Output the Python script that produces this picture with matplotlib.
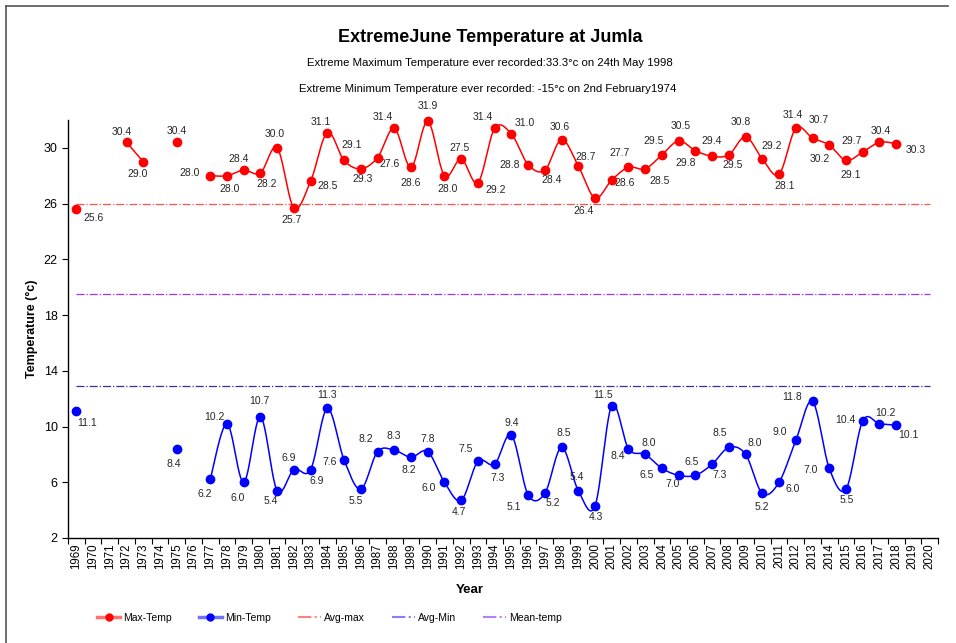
import numpy as np
import matplotlib.pyplot as plt
from matplotlib.lines import Line2D

plt.rcParams['font.family'] = ['Liberation Sans', 'DejaVu Sans']

# === Data ===
years = np.arange(1969, 2021)
nan = np.nan

max_temp = [25.6, nan, nan, 30.4, 29.0, nan, 30.4, nan, 28.0, 28.0,
            28.4, 28.2, 30.0, 25.7, 27.6, 31.1, 29.1, 28.5, 29.3, 31.4,
            28.6, 31.9, 28.0, 29.2, 27.5, 31.4, 31.0, 28.8, 28.4, 30.6,
            28.7, 26.4, 27.7, 28.6, 28.5, 29.5, 30.5, 29.8, 29.4, 29.5,
            30.8, 29.2, 28.1, 31.4, 30.7, 30.2, 29.1, 29.7, 30.4, 30.3,
            nan, nan]

min_temp = [11.1, nan, nan, nan, nan, nan, 8.4, nan, 6.2, 10.2,
            6.0, 10.7, 5.4, 6.9, 6.9, 11.3, 7.6, 5.5, 8.2, 8.3,
            7.8, 8.2, 6.0, 4.7, 7.5, 7.3, 9.4, 5.1, 5.2, 8.5,
            5.4, 4.3, 11.5, 8.4, 8.0, 7.0, 6.5, 6.5, 7.3, 8.5,
            8.0, 5.2, 6.0, 9.0, 11.8, 7.0, 5.5, 10.4, 10.2, 10.1,
            nan, nan]

# data labels as printed on the chart (one per existing point)
max_labels = ["25.6", "30.4", "29.0", "30.4", "28.0", "28.0", "28.4", "28.2",
              "30.0", "25.7", "28.5", "31.1", "29.1", "29.3", "27.6", "31.4",
              "28.6", "31.9", "28.0", "27.5", "29.2", "31.4", "31.0", "28.8",
              "28.4", "30.6", "28.7", "26.4", "28.6", "27.7", "28.5", "29.5",
              "30.5", "29.8", "29.4", "29.5", "30.8", "29.2", "28.1", "31.4",
              "30.7", "30.2", "29.1", "29.7", "30.4", "30.3"]
min_labels = ["11.1", "8.4", "6.2", "10.2", "6.0", "10.7", "5.4", "6.9",
              "6.9", "11.3", "7.6", "5.5", "8.2", "8.3", "8.2", "7.8",
              "6.0", "4.7", "7.5", "7.3", "9.4", "5.1", "5.2", "8.5",
              "5.4", "4.3", "11.5", "8.4", "8.0", "6.5", "7.0", "6.5",
              "7.3", "8.5", "8.0", "5.2", "6.0", "9.0", "11.8", "7.0",
              "5.5", "10.4", "10.2", "10.1"]

avg_max = 26.0
avg_min = 12.9
mean_temp = 19.5

# label offsets in pixels (right, down)
max_off = [(17, 9), (-5, -10), (-6, 12), (0, -11), (-21, -3), (3, 13), (-5, -11),
           (6, 11), (-2, -14), (-2, 12), (17, 5), (-6, -11), (8, -15), (2, 10),
           (12, 6), (-11, -11), (0, 16), (0, -15), (3, 13), (-2, -11), (18, 7),
           (-12, -11), (13, -11), (-18, 0), (7, 10), (-2, -13), (7, -9),
           (-11, 13), (13, 3), (-9, -14), (14, 12), (-8, -14), (2, -15),
           (-10, 12), (-1, -15), (4, 10), (-5, -15), (9, -13), (6, 12),
           (-3, -13), (6, -18), (-9, 14), (5, 15), (-11, -11), (1, -11), (20, 6)]
min_off = [(11, 12), (-3, 15), (-5, 15), (-13, -7), (-6, 16), (-1, -16), (-6, 10),
           (-5, -12), (6, 11), (0, -13), (-14, 2), (-5, 12), (-12, -13), (0, -14),
           (-2, 13), (0, -13), (-16, 6), (-2, 12), (-12, -12), (3, 14), (0, -12),
           (-14, 12), (8, 10), (2, -14), (-2, -14), (1, 11), (-9, -11), (-11, 7),
           (4, -11), (-15, 7), (-6, 9), (-4, -13), (7, 11), (-9, -14), (9, -11),
           (0, 14), (14, 7), (-16, -8), (-20, -4), (-19, 2), (1, 11), (-17, -1),
           (6, -11), (12, 10)]


def smooth_runs(x, y, n=24):
    # Excel-like smoothed line: bezier through each run of points
    x = np.asarray(x, float)
    y = np.asarray(y, float)
    ok = ~np.isnan(y)
    runs, cur = [], []
    for i in range(len(x)):
        if ok[i]:
            cur.append(i)
        elif cur:
            runs.append(cur)
            cur = []
    if cur:
        runs.append(cur)
    out = []
    for r in runs:
        if len(r) < 2:
            continue
        p = np.column_stack([x[r], y[r]])
        k = len(p)
        seg = []
        for i in range(k - 1):
            prev = p[i - 1] if i > 0 else p[i]
            nxt = p[i + 2] if i + 2 < k else p[i + 1]
            c1 = p[i] + (p[i + 1] - prev) / 6
            c2 = p[i + 1] - (nxt - p[i]) / 6
            t = np.linspace(0, 1, n)[:, None]
            b = ((1 - t) ** 3 * p[i] + 3 * (1 - t) ** 2 * t * c1
                 + 3 * (1 - t) * t ** 2 * c2 + t ** 3 * p[i + 1])
            seg.append(b)
        out.append(np.vstack(seg))
    return out


fig = plt.figure(figsize=(9.56, 6.43), dpi=100)
ax = fig.add_axes([68 / 956, 1 - 538 / 643, 870 / 956, 418 / 643])

for series, col in [(max_temp, 'red'), (min_temp, 'blue')]:
    for c in smooth_runs(years, series):
        ax.plot(c[:, 0], c[:, 1], color=col, lw=1.1, zorder=3, clip_on=False)
    ax.plot(years, series, 'o', color=col, ms=6, zorder=4, clip_on=False)

ax.plot([years[0], years[-1]], [avg_max, avg_max], color='#ff5050', ls='-.', lw=0.9)
ax.plot([years[0], years[-1]], [avg_min, avg_min], color='#333399', ls='-.', lw=0.9)
ax.plot([years[0], years[-1]], [mean_temp, mean_temp], color='#9933ff', ls='-.', lw=0.9)

# data labels
for series, labels, offs in [(max_temp, max_labels, max_off), (min_temp, min_labels, min_off)]:
    pts = [(yr, v) for yr, v in zip(years, series) if not np.isnan(v)]
    for (yr, v), txt, (dx, dy) in zip(pts, labels, offs):
        ax.annotate(txt, (yr, v), xytext=(dx, -dy), textcoords='offset pixels',
                    ha='center', va='center', fontsize=7.5, color='#262626')

ax.set_xlim(1968.5, 2020.5)
ax.set_ylim(2, 32)
ax.set_yticks(np.arange(2, 31, 4))
ax.set_xticks(years)
ax.set_xticklabels([str(y) for y in years], rotation=90, fontsize=8.3)
ax.set_xticks(np.arange(1968.5, 2021, 1), minor=True)
ax.tick_params(axis='x', which='major', length=0, pad=4)
ax.tick_params(axis='x', which='minor', length=4, width=0.8, direction='out')
ax.tick_params(axis='y', labelsize=9, length=4, width=0.8)
for s in ['top', 'right']:
    ax.spines[s].set_visible(False)
for s in ['left', 'bottom']:
    ax.spines[s].set_linewidth(1.0)

ax.set_ylabel("Temperature (°c)", fontsize=9, fontweight='bold', labelpad=4)
fig.text(470 / 956, 1 - 590 / 643, "Year", ha='center', va='center',
         fontsize=9.5, fontweight='bold')

fig.text(490 / 956, 1 - 37 / 643, "ExtremeJune Temperature at Jumla",
         ha='center', va='center', fontsize=13, fontweight='bold')
fig.text(490 / 956, 1 - 63 / 643,
         "Extreme Maximum Temperature ever recorded:33.3°c on 24th May 1998",
         ha='center', va='center', fontsize=8.2)
fig.text(488 / 956, 1 - 89 / 643,
         "Extreme Minimum Temperature ever recorded: -15°c on 2nd February1974",
         ha='center', va='center', fontsize=8.2)

handles = [
    Line2D([], [], color='#ff7070', lw=2.5, marker='o', mfc='red', mec='red', ms=5),
    Line2D([], [], color='#7070ff', lw=2.5, marker='o', mfc='blue', mec='blue', ms=5),
    Line2D([], [], color='#ff8080', lw=1.5, ls='-.'),
    Line2D([], [], color='#7f7fff', lw=1.5, ls='-.'),
    Line2D([], [], color='#b380ff', lw=1.5, ls='-.'),
]
fig.legend(handles, ["Max-Temp", "Min-Temp", "Avg-max", "Avg-Min", "Mean-temp"],
           loc='center left', bbox_to_anchor=(92 / 956, 1 - 618 / 643), ncol=5,
           frameon=False, fontsize=7.5, handlelength=2.2, handletextpad=0.3,
           columnspacing=2.6, borderpad=0)

# chart area border
fig.add_artist(Line2D([6 / 956, 6 / 956], [0, 1 - 6 / 643], color='#555555', lw=1.2))
fig.add_artist(Line2D([6 / 956, 948 / 956], [1 - 6 / 643, 1 - 6 / 643], color='#555555', lw=1.2))

fig.savefig("out.png", dpi=100)
